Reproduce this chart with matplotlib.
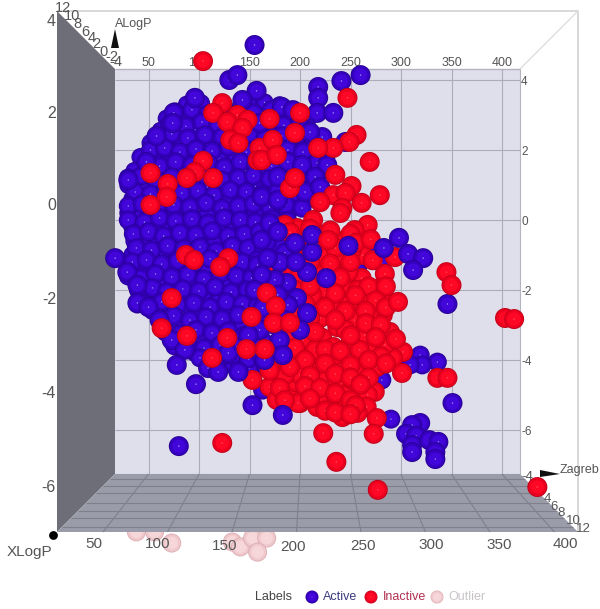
import matplotlib
matplotlib.use("Agg")
import matplotlib.pyplot as plt
import numpy as np
from matplotlib.patches import Polygon
from matplotlib.transforms import Affine2D

plt.rcParams['font.family'] = ['Liberation Sans', 'DejaVu Sans']

# red spheres almost hidden behind the blue cloud
deep_inactive_zagreb = [94, 141, 141, 65, 119, 54, 157, 152, 139, 48, 44, 118, 126, 167, 190, 205, 167]
deep_inactive_alogp = [2.23, 1.20, 0.80, 0.17, 0.09, -0.37, -0.29, 0.29, -0.86, -1.20, -1.86, -2.06, -3.23, -1.34, -1.37, 1.20, 0.94]

# spheres deep inside the blue cloud, mostly seen only between the others
under_active_zagreb = [
    88, 102, 125, 150, 165, 180,
    68, 84, 100, 116, 132, 150, 165, 180, 196, 208,
    62, 80, 96, 112, 130, 146, 160, 176, 192, 208,
    52, 68, 84, 100, 116, 134, 152, 170, 188, 204, 220,
    42, 56, 72, 88, 104, 120, 136, 152, 168, 184, 200, 216, 226,
    36, 50, 66, 82, 98, 114, 130, 146, 162, 178, 194, 210, 222,
    30, 44, 60, 76, 92, 108, 124, 140, 156, 172, 188, 204, 218,
    34, 48, 64, 80, 96, 112, 128, 144, 160, 176, 192, 206,
    30, 44, 60, 76, 92, 108, 124, 140, 156, 172, 188,
    34, 48, 64, 80, 96, 112, 128, 144, 160, 176, 190,
    36, 52, 68, 84, 100, 116, 132, 148, 164, 180, 192,
    34, 46, 62, 78, 94, 110, 126, 142, 158, 174, 186,
    32, 44, 60, 76, 92, 108, 124, 140, 156, 172, 186,
    38, 52, 66, 82, 98, 114, 130, 146, 162, 176,
    42, 58, 72, 88, 104, 120, 136, 152, 168, 182,
    54, 68, 84, 100, 116, 132, 148, 164, 176,
    64, 78, 94, 110, 126, 142, 158, 172,
    72, 86, 102, 118, 134, 150, 164,
    96, 112, 128, 144, 158,
    118, 134, 150, 166,
]
under_active_alogp = [
    3.30, 3.34, 3.26, 3.30, 3.36, 3.28,
    2.90, 2.86, 2.94, 2.90, 2.84, 2.92, 2.88, 2.94, 2.86, 2.90,
    2.55, 2.51, 2.59, 2.53, 2.57, 2.49, 2.55, 2.59, 2.51, 2.55,
    2.20, 2.24, 2.16, 2.22, 2.18, 2.26, 2.14, 2.20, 2.24, 2.16, 2.20,
    1.80, 1.76, 1.84, 1.78, 1.82, 1.74, 1.86, 1.80, 1.76, 1.82, 1.78, 1.84, 1.80,
    1.40, 1.44, 1.36, 1.42, 1.38, 1.46, 1.34, 1.40, 1.44, 1.38, 1.42, 1.36, 1.40,
    1.00, 0.96, 1.04, 0.98, 1.02, 0.94, 1.06, 1.00, 0.96, 1.02, 0.98, 1.04, 1.00,
    0.60, 0.64, 0.56, 0.62, 0.58, 0.66, 0.54, 0.60, 0.64, 0.58, 0.62, 0.56,
    0.20, 0.16, 0.24, 0.18, 0.22, 0.14, 0.26, 0.20, 0.16, 0.22, 0.18,
    -0.20, -0.16, -0.24, -0.18, -0.22, -0.14, -0.26, -0.20, -0.16, -0.22, -0.18,
    -0.60, -0.64, -0.56, -0.62, -0.58, -0.66, -0.54, -0.60, -0.64, -0.58, -0.62,
    -1.00, -0.96, -1.04, -0.98, -1.02, -0.94, -1.06, -1.00, -0.96, -1.02, -0.98,
    -1.40, -1.44, -1.36, -1.42, -1.38, -1.46, -1.34, -1.40, -1.44, -1.38, -1.42,
    -1.80, -1.76, -1.84, -1.78, -1.82, -1.74, -1.86, -1.80, -1.76, -1.82,
    -2.20, -2.24, -2.16, -2.22, -2.18, -2.26, -2.14, -2.20, -2.24, -2.18,
    -2.60, -2.56, -2.64, -2.58, -2.62, -2.54, -2.66, -2.60, -2.56,
    -3.00, -3.04, -2.96, -3.02, -2.98, -3.06, -2.94, -3.00,
    -3.40, -3.36, -3.44, -3.38, -3.42, -3.34, -3.46,
    -3.80, -3.76, -3.84, -3.78, -3.82,
    -4.20, -4.16, -4.24, -4.18,
]

back_active_zagreb = [
    76, 93, 109, 141, 154, 172, 188,
    71, 87, 103, 119, 137, 156, 168, 184, 200,
    58, 73, 89, 106, 123, 150, 166, 182, 198,
    52, 66, 81, 97, 113, 129, 147, 162, 180, 196, 210,
    48, 61, 77, 93, 109, 125, 141, 156, 172, 188, 202, 218,
    30, 43, 57, 73, 89, 105, 123, 139, 154, 170, 184, 200, 216,
    37, 52, 67, 83, 99, 115, 131, 147, 162, 178, 194, 208,
    30, 44, 59, 75, 91, 107, 123, 139, 154, 170, 186, 202,
    30, 46, 61, 77, 93, 109, 125, 141, 156, 172, 188,
    35, 50, 65, 81, 97, 113, 129, 145, 160, 176, 192,
    38, 53, 69, 85, 101, 117, 133, 149, 164, 180,
    34, 48, 63, 79, 95, 111, 127, 143, 158, 174, 190,
    30, 42, 57, 73, 89, 105, 121, 137, 152, 168, 184,
    40, 54, 68, 84, 100, 116, 132, 148, 163, 179,
    39, 50, 63, 79, 95, 111, 127, 143, 158, 174,
    61, 75, 91, 107, 123, 139, 154, 170,
    67, 81, 97, 113, 129, 145, 160,
    76, 89, 105, 121, 137, 152,
    101, 117, 133, 149, 162,
    257, 271, 281, 281, 281, 290, 193, 195, 167, 163, 319, 336, 321, 309,
]
back_active_alogp = [
    3.09, 3.15, 3.03, 3.12, 3.06, 3.15, 3.03,
    2.74, 2.68, 2.80, 2.71, 2.77, 2.65, 2.80, 2.71, 2.77,
    2.40, 2.46, 2.34, 2.43, 2.37, 2.46, 2.34, 2.40, 2.43,
    2.00, 2.06, 1.94, 2.03, 1.97, 2.09, 1.94, 2.00, 2.06, 1.94, 2.03,
    1.60, 1.54, 1.66, 1.57, 1.63, 1.51, 1.66, 1.60, 1.54, 1.63, 1.57, 1.66,
    1.20, 1.26, 1.14, 1.23, 1.17, 1.29, 1.14, 1.20, 1.26, 1.17, 1.23, 1.14, 1.20,
    0.80, 0.74, 0.86, 0.77, 0.83, 0.71, 0.86, 0.80, 0.74, 0.83, 0.77, 0.86,
    0.40, 0.46, 0.34, 0.43, 0.37, 0.49, 0.34, 0.40, 0.46, 0.37, 0.43, 0.34,
    0.00, -0.06, 0.06, -0.03, 0.03, -0.09, 0.06, 0.00, -0.06, 0.03, -0.03,
    -0.40, -0.34, -0.46, -0.37, -0.43, -0.31, -0.46, -0.40, -0.34, -0.43, -0.37,
    -0.80, -0.86, -0.74, -0.83, -0.77, -0.89, -0.74, -0.80, -0.86, -0.77,
    -1.20, -1.14, -1.26, -1.17, -1.23, -1.11, -1.26, -1.20, -1.14, -1.23, -1.17,
    -1.60, -1.66, -1.54, -1.63, -1.57, -1.69, -1.54, -1.60, -1.66, -1.57, -1.63,
    -2.00, -1.94, -2.06, -1.97, -2.03, -1.91, -2.06, -2.00, -1.94, -2.03,
    -2.40, -2.46, -2.34, -2.43, -2.37, -2.49, -2.34, -2.40, -2.46, -2.37,
    -2.80, -2.74, -2.86, -2.77, -2.83, -2.71, -2.86, -2.80,
    -3.20, -3.26, -3.14, -3.23, -3.17, -3.29, -3.14,
    -3.60, -3.54, -3.66, -3.57, -3.63, -3.51,
    -3.94, -4.00, -3.88, -3.97, -3.91,
    -1.43, -0.80, -1.23, -3.43, -4.57, -5.69, -3.43, -4.34, -4.23, -4.86, -3.86, -4.06, -4.14, -4.14,
]

# red mass on the right of the cloud
back_inactive_zagreb = [
    213, 197, 185, 267, 254, 205, 262, 238, 261, 284, 294, 243, 225, 266, 249, 218, 237, 220, 254, 282,
    274, 237, 207, 289, 282, 279, 235, 248, 212, 170, 192, 222, 207, 249, 267, 233, 302, 292, 207, 215,
    256, 276, 242, 208, 274, 256, 227, 267, 235, 225, 200, 217, 266, 257, 242, 197, 193, 248, 252, 178,
    170, 188, 177, 198, 195, 203, 153,
    220, 245, 200, 220, 251, 200, 220, 257, 230, 200, 185, 220, 240, 200, 225, 215, 245, 264, 180, 245,
    185, 274, 259, 220, 259, 284, 235, 269,
    190, 210, 230, 250, 195, 215, 235, 255, 270, 190, 210, 230, 250, 272, 200, 240, 268, 285,
    195, 210, 235, 255, 275, 205, 225, 245, 265, 285, 195, 210, 235, 265, 280, 190, 215, 250, 275, 295,
    195, 225, 240, 280, 180, 205, 225, 250, 268, 285, 170, 190, 210, 235, 250, 268, 180, 205, 220, 235, 260,
    185, 210, 250, 255, 225, 235, 250,
]
back_inactive_alogp = [
    0.00, -0.23, -0.14, -0.14, -0.29, -0.63, -1.00, -1.06, -1.66, -1.54, -1.06, -1.86, -2.09, -2.34, -2.37, -2.43, -2.63, -2.80, -2.86, -2.71,
    -3.06, -3.06, -3.11, -3.20, -2.09, -1.94, -1.51, -1.49, -2.14, -1.34, -1.37, -3.37, -3.57, -3.57, -3.63, -3.63, -3.77, -3.94, -4.20, -4.37,
    -4.09, -4.20, -4.66, -4.91, -4.91, -4.86, -4.91, -5.00, -5.20, -5.20, -5.23, -5.34, -5.34, -5.51, -5.63, -3.94, -4.77, -4.94, -4.57, -4.57,
    -4.77, -4.91, -5.14, -5.23, -4.63, -3.43, -4.57,
    -0.43, -0.57, -1.00, -1.00, -0.86, -1.86, -1.57, -2.00, -2.43, -2.86, -3.43, -3.86, -4.14, -4.43, -4.57, -3.71, -3.14, -3.29, -4.14, -5.29,
    -4.43, -3.71, -3.71, -5.00, -4.43, -3.57, -3.86, -2.71,
    -0.35, -0.25, -0.30, -0.40, -0.75, -0.70, -0.80, -0.65, -0.55, -1.10, -1.20, -1.25, -1.20, -1.15, -1.55, -1.65, -1.90, -1.90,
    -2.00, -1.90, -2.10, -2.15, -2.30, -2.40, -2.50, -2.60, -2.60, -2.50, -2.70, -2.80, -2.85, -2.95, -3.00, -3.20, -3.20, -3.30, -3.35, -3.40,
    -3.65, -3.70, -3.75, -3.90, -3.90, -4.00, -4.10, -4.15, -4.00, -4.10, -4.30, -4.20, -4.45, -4.40, -4.50, -4.50, -4.80, -4.75, -4.80, -4.95, -4.70,
    -5.15, -5.10, -5.15, -5.30, -5.45, -5.50, -5.55,
]

# blue spheres in front and the loose ones around the edge
front_active_zagreb = [
    155, 130, 138, 157, 143, 96, 75, 74, 58, 48, 30, 182, 193, 218, 218, 217, 233, 241, 260,
    205, 222, 210, 245, 188, 203, 188, 217, 227, 202, 178, 215, 205, 220, 162, 178, 160,
    17, 29, 39, 39, 50, 61, 73, 86, 78, 97, 109, 119, 139, 129, 80, 153, 183,
    167, 185, 180, 212, 248, 283, 298, 226, 207, 187, 175, 197, 207, 188, 163, 212, 170, 158,
    307, 322, 312, 346, 351,
    319, 311, 305, 315, 311, 311, 328, 337, 334, 334,
    162, 178, 195, 168, 196, 162, 178, 155, 185, 200, 160, 180, 149, 165, 183,
]
front_active_alogp = [
    5.00, 4.00, 4.14, 3.69, 3.43, 3.49, 3.06, 2.77, 2.40, 1.66, 1.14, 3.23, 3.14, 3.80, 3.49, 3.06, 3.06, 3.97, 4.14,
    2.57, 2.37, 2.51, 2.23, 2.00, 1.94, 1.66, 1.63, 1.57, 1.57, 1.23, 1.23, 0.80, 0.94, 0.66, 0.57, 2.77,
    -1.09, -1.49, -1.86, -2.37, -2.49, -2.86, -3.43, -3.71, -4.14, -4.69, -4.23, -4.34, -4.34, -3.80, -6.46, -5.29, -5.57,
    -0.63, -0.94, -1.20, -0.91, -0.74, -0.80, -0.51, -1.66, -1.49, -1.80, -1.71, -2.23, -2.66, -2.43, -2.51, -0.43, -0.09, -1.29,
    -0.97, -1.09, -1.43, -2.40, -5.23,
    -5.80, -5.86, -6.11, -6.17, -6.43, -6.63, -6.29, -6.34, -6.63, -6.83,
    -0.57, -0.34, -0.66, -1.09, -1.20, -1.57, -2.14, -2.00, -2.86, -3.14, -3.14, -3.43, -3.29, -4.00, -3.86,
]

# red spheres in front
front_inactive_zagreb = [
    104, 247, 123, 114, 138, 148, 128, 143, 131, 139, 160, 158, 104, 96, 88, 114, 52, 69, 68, 52,
    200, 170, 195, 256, 249, 233, 218, 173, 162, 177, 269, 235, 190, 195, 251, 279, 233, 245, 220, 261, 242,
    87, 95, 129, 121, 73, 63, 88, 128, 165, 147, 113, 152, 167, 176, 174, 190,
    345, 350, 297, 403, 412, 240, 228, 301, 336, 346, 276, 273, 223, 236, 277, 435, 123,
]
front_inactive_alogp = [
    4.54, 3.49, 3.34, 3.06, 3.00, 2.86, 2.80, 2.63, 2.29, 2.20, 2.06, 1.71, 1.69, 1.37, 1.20, 1.20, 1.34, 1.03, 0.66, 0.43,
    3.06, 2.89, 2.49, 2.43, 2.23, 2.06, 2.06, 2.29, 1.71, 1.86, 1.66, 1.29, 0.91, 1.20, 0.97, 0.71, 0.71, 0.77, 0.51, 0.49, 0.34,
    -1.00, -1.14, -1.09, -1.34, -2.23, -3.09, -3.31, -3.37, -3.69, -3.69, -3.94, -2.77, -2.09, -2.46, -2.94, -2.94,
    -1.49, -1.86, -2.34, -2.80, -2.83, 0.20, -0.57, -4.37, -4.51, -4.51, -5.66, -6.11, -6.09, -6.91, -7.71, -7.63, -6.37,
]

outlier_zagreb = [38, 56, 73, 133, 141, 153, 167, 158]
outlier_alogp = [-8.91, -8.91, -9.23, -9.20, -9.34, -9.09, -9.09, -9.49]

back_x_ticks = [50, 100, 150, 200, 250, 300, 350, 400]
back_y_ticks = [4, 2, 0, -2, -4, -6]
floor_depth_rows = [479, 486, 493, 503, 511, 518, 527]

BLUE = ['#2A0098', '#3600C0', '#4206DA', '#8E80EC']
RED = ['#C40018', '#EC0020', '#FF0826', '#FF4858']
PINK = ['#DDB0B6', '#EFC8CC', '#F6D6D8', '#FBE8E8']
TEXT = '#555555'


def draw_spheres(ax, zagreb, alogp, colors, diam, zorder):
    # each sphere is four stacked discs, kept in order so spheres overlap properly
    fractions = [1.0, 0.9, 0.66, 0.08]
    x = np.repeat(zagreb, 4)
    y = np.repeat(alogp, 4)
    d = np.tile(np.array(fractions) * diam, len(zagreb))
    c = colors * len(zagreb)
    s = (d * 0.72) ** 2
    ax.scatter(x, y, s=s, c=c, linewidths=0, zorder=zorder)


fig = plt.figure(figsize=(6, 6.09), dpi=100)
ax = fig.add_axes([0, 0, 1, 1])
ax.set_xlim((0 - 98) / 1.01, (600 - 98) / 1.01)
ax.set_ylim((220 - 609) / 35, 220 / 35)
ax.axis('off')

# frame pieces are placed in picture pixels
px = Affine2D().scale(1, -1).translate(0, 609)


def wall(points, color, zorder):
    ax.add_patch(Polygon(points, closed=True, fc=color, ec='none', transform=px, zorder=zorder))


def line(xs, ys, color, lw, zorder):
    ax.plot(xs, ys, color=color, lw=lw, transform=px, zorder=zorder, solid_capstyle='butt')


def label(x, y, s, size=9, color=TEXT, ha='center', zorder=2.5):
    ax.text(x, y, s, fontsize=size, color=color, ha=ha, va='center', transform=px, zorder=zorder)


wall([(115, 69), (520, 69), (520, 474), (115, 474)], '#DEDFEB', 1)
wall([(57, 11), (115, 69), (115, 474), (57, 532)], '#6E6E78', 1)
line([57, 578, 578], [11, 11, 532], '#D2D2D2', 1.2, 1)
line([520, 578], [69, 11], '#DEDEDE', 1.0, 1)
line([115, 520, 520], [474, 474, 69], '#B4B4C0', 0.8, 1.2)
line([115, 520], [69, 69], '#B4B4BE', 1.0, 1.2)

for t in back_x_ticks:
    x = 98 + 1.01 * t
    line([x, x], [69, 474], '#ABABBA', 0.8, 1.2)
    label(x, 63, str(t))
for t in back_y_ticks:
    y = 220 - 35 * t
    line([115, 520], [y, y], '#ABABBA', 0.8, 1.2)
    label(521, y + 2, str(t), size=8.5, ha='left')

# outliers sit below the floor, the floor hides their upper part
draw_spheres(ax, outlier_zagreb, outlier_alogp, PINK, 19, 1.5)

wall([(115, 474), (520, 474), (578, 532), (57, 532)], '#9A9CAA', 2)
for y in floor_depth_rows:
    f = (y - 474) / 58
    line([115 - 58 * f, 520 + 58 * f], [y, y], '#7F808C', 0.8, 2.1)
for t in back_x_ticks:
    line([98 + 1.01 * t, 103 + (t - 50) * 1.29], [474, 532], '#7F808C', 0.8, 2.1)

front_labels = [(94, 544), (158, 544), (225, 546), (293, 547), (363, 546), (431, 545), (499, 545), (565, 544)]
for t, (x, y) in zip(back_x_ticks, front_labels):
    label(x, y, str(t), size=11)
side_labels = [(22, '4'), (114, '2'), (206, '0'), (300, '-2'), (394, '-4'), (487, '-6')]
for y, s in side_labels:
    label(56, y, s, size=11.5, ha='right')
top_depth = [(116, 62, '-4'), (112, 57, '-2'), (103, 52, '0'), (96, 44, '2'), (92, 38, '4'),
             (85, 32, '6'), (77, 24, '8'), (72, 16, '10'), (63, 8, '12')]
for x, y, s in top_depth:
    label(x, y, s, size=10.5)
right_depth = [(527, 477, '-4'), (547, 499, '4'), (554, 507, '6'), (561, 513, '8'), (573, 521, '10'), (583, 529, '12')]
for x, y, s in right_depth:
    label(x, y, s, size=9.5)

# axis arrows and names
wall([(115, 29), (119, 48), (111, 48)], '#111111', 3)
label(115, 24, 'ALogP', size=9, ha='left')
wall([(540, 470), (560, 474), (540, 477)], '#111111', 3)
label(560, 470, 'Zagreb', size=9, ha='left')
label(29, 552, 'XLogP', size=11)
ax.scatter([53 / 1.01 - 97.03], [(220 - 535) / 35], s=40, c='#000000', linewidths=0, zorder=3)

draw_spheres(ax, deep_inactive_zagreb, deep_inactive_alogp, RED, 17, 3)
draw_spheres(ax, under_active_zagreb, under_active_alogp, BLUE, 18, 3.05)
draw_spheres(ax, back_active_zagreb, back_active_alogp, BLUE, 19, 3.1)
draw_spheres(ax, back_inactive_zagreb, back_inactive_alogp, RED, 20, 3.2)
draw_spheres(ax, front_active_zagreb, front_active_alogp, BLUE, 20, 3.3)
draw_spheres(ax, front_inactive_zagreb, front_inactive_alogp, RED, 20, 3.4)

# legend
label(273, 597, 'Labels', size=9, color='#444444')
legend_rows = [(312, 323, 'Active', BLUE, '#3A3A7C'), (371, 383, 'Inactive', RED, '#B03050'), (437, 448, 'Outlier', PINK, '#C8C4C8')]
for cx, tx, name, cols, tc in legend_rows:
    draw_spheres(ax, [(cx - 98) / 1.01], [(220 - 597) / 35], cols, 13, 3)
    label(tx, 597, name, size=9, color=tc, ha='left')

fig.savefig('out.png', dpi=100)
